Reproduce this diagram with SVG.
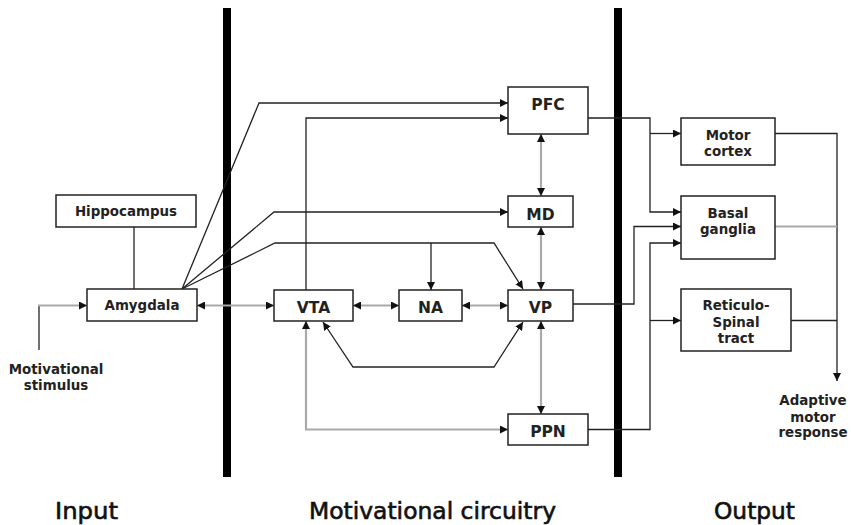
<svg xmlns="http://www.w3.org/2000/svg" width="851" height="525" viewBox="0 0 851 525">
  <style>
    .box { fill: #fff; stroke: #222; stroke-width: 1.5; }
    .lbl { font-family: "DejaVu Sans", Verdana, sans-serif; font-weight: bold; font-size: 13.4px; fill: #222; text-anchor: middle; }
    .big { font-size: 15.5px; }
    .sec { font-family: "DejaVu Sans", Verdana, sans-serif; font-size: 22.5px; fill: #111; stroke: #111; stroke-width: 0.6; }
    .ln { fill: none; stroke: #222; stroke-width: 1.3; }
    .gr { fill: none; stroke: #aaa; stroke-width: 2.2; }
    .bar { fill: #000; }
  </style>
  <defs>
    <marker id="ah" markerUnits="userSpaceOnUse" markerWidth="8" markerHeight="8" refX="8" refY="4" orient="auto-start-reverse">
      <path d="M0,0 L8,4 L0,8 z" fill="#111"/>
    </marker>
  </defs>

  <rect width="851" height="525" fill="#fff"/>

  <!-- section dividers -->
  <rect class="bar" x="223" y="8" width="8" height="469"/>
  <rect class="bar" x="614" y="8" width="8" height="469"/>

  <!-- connectors -->
  <g id="connectors">
    <path class="ln" d="M39,350 V305.5"/>
    <path class="gr" d="M38,305.5 H87" marker-end="url(#ah)"/>
    <path class="ln" d="M134,227 V289"/>
    <path class="ln" d="M182,289 L259,103 H508" marker-end="url(#ah)"/>
    <path class="ln" d="M182,289 L274,212 H508" marker-end="url(#ah)"/>
    <path class="ln" d="M182,289 L275,243 H494 L523,289" marker-end="url(#ah)"/>
    <path class="ln" d="M431,243 V290" marker-end="url(#ah)"/>
    <path class="ln" d="M306,290 V118 H508" marker-end="url(#ah)"/>
    <path class="gr" d="M197,305.5 H274" marker-start="url(#ah)" marker-end="url(#ah)"/>
    <path class="gr" d="M353,305.5 H399" marker-start="url(#ah)" marker-end="url(#ah)"/>
    <path class="gr" d="M462,305.5 H508" marker-start="url(#ah)" marker-end="url(#ah)"/>
    <path class="gr" d="M541,134 V196" marker-start="url(#ah)" marker-end="url(#ah)"/>
    <path class="gr" d="M541,227 V290" marker-start="url(#ah)" marker-end="url(#ah)"/>
    <path class="gr" d="M541,321 V414" marker-start="url(#ah)" marker-end="url(#ah)"/>
    <path class="gr" d="M306,321 V429.5 H508" marker-start="url(#ah)" marker-end="url(#ah)"/>
    <path class="ln" d="M323,322 L353,367 H494 L523,322" marker-start="url(#ah)" marker-end="url(#ah)"/>
    <path class="ln" d="M588,118 H650 V212 H681" marker-end="url(#ah)"/>
    <path class="ln" d="M650,133.5 H681" marker-end="url(#ah)"/>
    <path class="ln" d="M573,304 H634 V226.5 H681" marker-end="url(#ah)"/>
    <path class="ln" d="M588,429.5 H650 V243 H681" marker-end="url(#ah)"/>
    <path class="ln" d="M650,320.5 H681" marker-end="url(#ah)"/>
    <path class="ln" d="M775,133.5 H837 V381" marker-end="url(#ah)"/>
    <path class="gr" d="M775,226.5 H837"/>
    <path class="ln" d="M791,320.5 H837"/>
  </g>

  <!-- nodes -->
  <g id="hippocampus">
    <rect class="box" x="56" y="195" width="140" height="32"/>
    <text class="lbl" x="126" y="216">Hippocampus</text>
  </g>
  <g id="amygdala">
    <rect class="box" x="87" y="289" width="110" height="32"/>
    <text class="lbl" x="142" y="310">Amygdala</text>
  </g>
  <g id="pfc">
    <rect class="box" x="508" y="87" width="80" height="47"/>
    <text class="lbl big" x="548" y="110">PFC</text>
  </g>
  <g id="md">
    <rect class="box" x="508" y="196" width="65" height="31"/>
    <text class="lbl big" x="540.5" y="219.5">MD</text>
  </g>
  <g id="vta">
    <rect class="box" x="274" y="290" width="79" height="31"/>
    <text class="lbl big" x="313.5" y="313">VTA</text>
  </g>
  <g id="na">
    <rect class="box" x="399" y="290" width="63" height="31"/>
    <text class="lbl big" x="430.5" y="313">NA</text>
  </g>
  <g id="vp">
    <rect class="box" x="508" y="290" width="65" height="31"/>
    <text class="lbl big" x="540.5" y="313">VP</text>
  </g>
  <g id="ppn">
    <rect class="box" x="508" y="414" width="80" height="31"/>
    <text class="lbl big" x="548" y="437">PPN</text>
  </g>
  <g id="motor-cortex">
    <rect class="box" x="681" y="118" width="94" height="47"/>
    <text class="lbl" x="728" y="140">Motor</text>
    <text class="lbl" x="728" y="156">cortex</text>
  </g>
  <g id="basal-ganglia">
    <rect class="box" x="681" y="196" width="94" height="63"/>
    <text class="lbl" x="728" y="217.5">Basal</text>
    <text class="lbl" x="728" y="233.5">ganglia</text>
  </g>
  <g id="reticulo-spinal">
    <rect class="box" x="681" y="289" width="110" height="62"/>
    <text class="lbl" x="736" y="310">Reticulo-</text>
    <text class="lbl" x="736" y="326.5">Spinal</text>
    <text class="lbl" x="736" y="343">tract</text>
  </g>
  <g id="stimulus">
    <text class="lbl" x="56" y="374">Motivational</text>
    <text class="lbl" x="56" y="390">stimulus</text>
  </g>
  <g id="response">
    <text class="lbl" x="813" y="405">Adaptive</text>
    <text class="lbl" x="813" y="421.5">motor</text>
    <text class="lbl" x="813" y="437">response</text>
  </g>

  <!-- section titles -->
  <text class="sec" x="55" y="519" textLength="63" lengthAdjust="spacingAndGlyphs">Input</text>
  <text class="sec" x="309" y="519" textLength="247" lengthAdjust="spacingAndGlyphs">Motivational circuitry</text>
  <text class="sec" x="714" y="519" textLength="81" lengthAdjust="spacingAndGlyphs">Output</text>
</svg>
